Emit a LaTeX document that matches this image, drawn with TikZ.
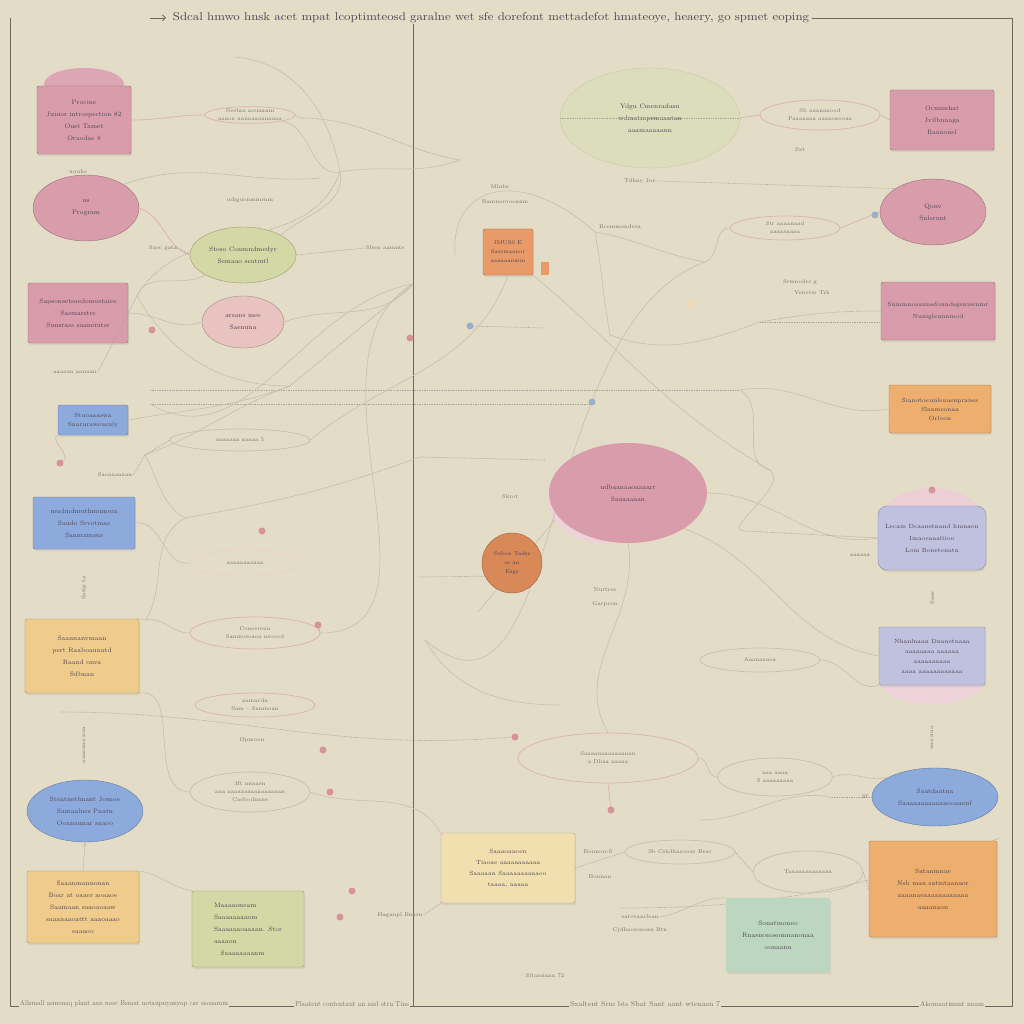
\documentclass[tikz,border=0pt]{standalone}
\usepackage{tikz}
\usetikzlibrary{shapes.geometric,shadows,arrows.meta}

\definecolor{bgc}{HTML}{E3DCC7}
\definecolor{framec}{HTML}{6E665C}
\definecolor{cpink}{HTML}{D99CAB}
\definecolor{cpinklt}{HTML}{E8C3C0}
\definecolor{cgreen}{HTML}{D4D8A5}
\definecolor{cgreenlt}{HTML}{DCDDBA}
\definecolor{cblue}{HTML}{8DAADC}
\definecolor{cyellow}{HTML}{EFCB8C}
\definecolor{ccream}{HTML}{F1DFB0}
\definecolor{corange}{HTML}{E89B68}
\definecolor{corangedk}{HTML}{D98858}
\definecolor{corangert}{HTML}{EDAE6E}
\definecolor{cteal}{HTML}{BCD7C0}
\definecolor{clav}{HTML}{C0C1DE}
\definecolor{wirec}{HTML}{C9BFAC}
\definecolor{wirep}{HTML}{DDB2AD}
\definecolor{inkc}{HTML}{4F4450}
\definecolor{labc}{HTML}{7A7268}
\definecolor{spotp}{HTML}{D6949A}
\definecolor{spotb}{HTML}{9AB0C8}

\tikzset{
	card/.style={rectangle, draw=#1!72!black, fill=#1, rounded corners=1.5pt, align=center,
		text=inkc, font=\fontsize{6.5}{12}\selectfont, inner sep=2pt,
		drop shadow={opacity=.15, shadow xshift=1pt, shadow yshift=-2pt}},
	oval/.style={ellipse, draw=#1!72!black, fill=#1, align=center, text=inkc,
		font=\fontsize{6.5}{12}\selectfont, inner sep=0pt},
	lens/.style={ellipse, draw=wirep, line width=0.7pt, align=center, text=labc,
		font=\fontsize{5.5}{8}\selectfont, inner sep=0pt},
	glens/.style={lens, draw=wirec},
	wire/.style={draw=wirec, line width=0.6pt},
	pwire/.style={draw=wirep, line width=0.7pt},
	tline/.style={draw=labc!65, densely dotted, line width=0.7pt},
	lbl/.style={text=labc, font=\fontsize{5.5}{7}\selectfont, inner sep=1pt},
	spot/.style={circle, fill=#1, inner sep=0pt, minimum size=7pt},
	frame/.style={draw=framec, line width=0.8pt},
	foot/.style={fill=bgc, text=labc, inner sep=1pt}
}

\begin{document}
\begin{tikzpicture}[x=1pt,y=-1pt]
	\useasboundingbox (0,0) rectangle (1024,1024);
	\fill[bgc] (0,0) rectangle (1024,1024);

	\coordinate (hA) at (300,118);
	\coordinate (hB) at (340,172);
	\coordinate (hC) at (595,232);
	\coordinate (hD) at (137,296);
	\coordinate (hE) at (290,386);
	\coordinate (hF) at (145,455);
	\coordinate (hF2) at (185,518);
	\coordinate (hG) at (146,620);
	\coordinate (topA) at (235,57);
	\coordinate (midA) at (460,160);
	\coordinate (midC) at (413,284);
	\coordinate (cUs) at (320,178);
	\coordinate (hC2) at (610,335);
	\coordinate (hR1) at (705,262);
	\coordinate (hR3) at (760,322);
	\coordinate (hR4) at (740,390);
	\coordinate (hR5) at (745,531);
	\coordinate (hR6) at (830,797);
	\coordinate (hMid) at (770,470);
	\coordinate (lft1) at (150,390);
	\coordinate (lft2) at (150,404);
	\coordinate (ptr) at (420,457);
	\coordinate (cc1) at (478,612);
	\coordinate (ccl) at (420,577);
	\coordinate (lowL) at (60,712);
	\coordinate (lowM) at (620,908);
	\coordinate (lowR) at (1000,838);
	\coordinate (hK) at (425,640);

	% frame and title
	\draw[frame] (10,18) -- (10,1006) -- (1012,1006) -- (1012,18);
	\draw[frame] (413,14) -- (413,1006);
	\draw[frame,-{Straight Barb[length=3pt]}] (150,18) -- (166,18);
	\draw[frame] (812,18) -- (1012,18);
	\node[fill=bgc, text=inkc, inner sep=1pt] (title) at (491,18) {\resizebox{636pt}{8pt}{Sdcal hmwo hnsk acet mpat lcoptimteosd garalne wet sfe dorefont mettadefot hmateoye, heaery, go spmet eoping}};
	\node[foot] (foot1) at (124,1004) {\resizebox{208pt}{5pt}{Allsmall asmenaq plant aan nosc Bsmat notaupnyanyap car saosamm}};
	\node[foot] (foot2) at (352,1004) {\resizebox{114pt}{5pt}{Plaatent contentaut an and stru Tins}};
	\node[foot] (foot3) at (645,1004) {\resizebox{150pt}{5pt}{Sxaltent Srm bts Sbat Sant aant wtenasn 7}};
	\node[foot] (foot4) at (952,1004) {\resizebox{64pt}{5pt}{Akomaatimmt naam}};

	% halos
	\fill[cpink!90] (84,84) ellipse [x radius=40pt, y radius=16pt];
	\fill[cpink!45] (600,497) ellipse [x radius=52pt, y radius=46pt];
	\fill[cpink!50] (932,522) ellipse [x radius=52pt, y radius=34pt];
	\fill[cpink!45] (932,680) ellipse [x radius=52pt, y radius=24pt];
	\fill[corange] (541,262) rectangle (549,275);

	% connectors, left side
	\node[lens] (nest) at (250,115) {Nestaa aouaanm\\ aaaoa uanaaaaanaaaa};
	\draw[tline] (nest.east) -- (hA);
	\draw[tline] (hA) to[out=0,in=170] (midA);
	\draw[wire] (topA) to[out=-5,in=100] (hB);
	\draw[wire] (hB) to[out=10,in=200] (midA);
	\draw[wire] (hB) to[out=190,in=-10] (nest.south east);
	\draw[tline] (hD) to[out=60,in=250] (hB);
	\draw[wire] (hD) to[out=-60,in=180] (hE);
	\draw[wire] (hE) to[out=40,in=220] (midC);
	\draw[tline] (lft1) -- (hR4);
	\draw[tline] (lft2) -- (592,404);
	\draw[wire] (hF) to[out=-60,in=150] (hF2);
	\draw[wire] (hF2) to[out=10,in=200] (ptr);
	\draw[wire] (hF) to[out=20,in=200] (hE);
	\draw[wire] (hG) to[out=60,in=210] (hF2);
	\draw[wire] (hK) to[out=-40,in=200] (hR1);
	\draw[wire] (lft2) to[out=-30,in=190] (midC);

	% connectors, middle
	\draw[wire] (hC) .. controls (520,165) and (450,185) .. (455,255);
	\draw[wire] (hC) to[out=-80,in=100] (hC2);
	\draw[wire] (hC) to[out=-10,in=170] (hR1);
	\draw[wire] (hC2) to[out=-20,in=200] (hR3);
	\draw[tline] (hR3) -- (880,322);
	\draw[wire] (hR4) to[out=-30,in=170] (hMid);
	\draw[tline] (ptr) -- (545,460);
	\draw[wire] (cc1) -- (555,520);
	\draw[tline] (ccl) -- (500,576);
	\draw[wire] (hMid) to[out=-40,in=180] (hR5);
	\draw[wire] (hK) to[out=-60,in=180] (560,705);
	\draw[tline] (lowL) to[out=0,in=185] (512,737);
	\draw[tline] (lowM) to[out=0,in=200] (lowR);
	\draw[wire] (hR6) to[out=170,in=0] (700,820);

	% nodes, left column
	\node[card=cpink, minimum width=94pt, minimum height=68pt] (procine) at (84,120) {Procine\\ Junior introspection 82\\ Oust Tamet\\ Oraodae 8};
	\node[oval=cpink, minimum width=106pt, minimum height=66pt] (ovalus) at (86,208) {us\\ Program};
	\node[oval=cgreen, minimum width=106pt, minimum height=56pt] (shoe) at (243,255) {Stoso Conmndmedyr\\ Semaao seatmtl};
	\node[card=cpink, minimum width=100pt, minimum height=60pt] (sapbox) at (78,313) {Sapsonsetsaedomestaiee\\ Sasmarstre\\ Sunsrass saaneratsr};
	\node[oval=cpinklt, minimum width=82pt, minimum height=52pt] (pinkegg) at (243,322) {arsans mee\\ Saenuna};
	\node[card=cblue, minimum width=70pt, minimum height=30pt, font=\fontsize{6}{9}\selectfont] (bluesm) at (93,420) {Stuoaaaswa\\ Snaruraweusuly};
	\node[card=cblue, minimum width=102pt, minimum height=52pt] (bluebox) at (84,523) {mudmdmuthmumera\\ Saudo Srvotmas\\ Sanmxmsus};
	\node[card=cyellow, minimum width=114pt, minimum height=74pt] (yelA) at (82,656) {Saannanvmaan\\ pert Raaboaunatd\\ Raand onva\\ Sdbnan};
	\node[oval=cblue, minimum width=116pt, minimum height=62pt] (blueov) at (85,811) {Stoatnethnant Josnoe\\ Samaalnes Pnatn\\ Ooanaunar saaoo};
	\node[card=cyellow, minimum width=112pt, minimum height=72pt] (yelB) at (83,907) {Saaanmannonan\\ Boar at oaaer aoaaoe\\ Saamaan saaoaoaaw\\ saaanaaoattt aaaoaaao\\ saaaoo};
	\node[card=cgreen, minimum width=112pt, minimum height=76pt, align=left] (greenB) at (248,929) {Maaaaoneam\\ Saaaaaaaaom\\ Saaaaaaoaaaan. Stor\\ aaaaon\\ \quad Saaaaaaaanm};

	% nodes, middle
	\node[oval=cgreenlt, draw=cgreenlt!92!black, minimum width=180pt, minimum height=100pt] (bigegg) at (650,118) {Ydgu Cmenradasn\\ wdmatmprmuantan\\ aaamaaaaann};
	\node[card=corange, minimum width=50pt, minimum height=46pt, font=\fontsize{5.5}{9}\selectfont] (tagbox) at (508,252) {IMUSS E\\ Sassmaanor\\ aaaaaanmm};
	\node[oval=cpink, draw=none, minimum width=158pt, minimum height=100pt] (bigpink) at (628,493) {ndbaanaaoaaaarr\\ Saaaaaaan};
	\node[oval=corangedk, minimum width=60pt, minimum height=60pt, font=\fontsize{5.5}{9}\selectfont] (orcirc) at (512,563) {Suboa Tasks\\ ss an\\ Esgs};
	\node[card=ccream, minimum width=134pt, minimum height=70pt, font=\fontsize{6}{11}\selectfont] (cream) at (508,868) {Saaaoaaoen\\ Tiaoae aaaaaaaaaaa\\ Saaaaan Saaaaaaaaaaoo\\ taaaa, aaaaa};
	\node[card=cteal, draw=cteal, minimum width=104pt, minimum height=74pt] (teal) at (778,935) {Sonatinoneo\\ Rnasnonosomnanonaa\\ oonaanu};

	% nodes, right column
	\node[card=cpink, minimum width=104pt, minimum height=60pt] (rbox1) at (942,120) {Ocmnnhat\\ Jvilbnnaga\\ Ilaauonel};
	\node[oval=cpink, minimum width=106pt, minimum height=66pt] (rov) at (933,212) {Qonv\\ Snlerunt};
	\node[card=cpink, minimum width=114pt, minimum height=58pt, font=\fontsize{6}{12}\selectfont] (rbox2) at (938,311) {Snmmnosaunsdoundsgenisenmr\\ Nunigleunnmod};
	\node[card=corangert, minimum width=102pt, minimum height=48pt, font=\fontsize{6}{9}\selectfont] (rorange) at (940,409) {Sianotoeunlenasnpranes\\ Slanmsonaa\\ Orloon};
	\node[card=clav, rounded corners=9pt, minimum width=108pt, minimum height=64pt, font=\fontsize{6}{12}\selectfont] (rlav) at (932,538) {Lecam Dcaanetnand hmnaon\\ Imaoeaaaltioo\\ Lom Bonetenatn};
	\node[card=clav, minimum width=106pt, minimum height=58pt, font=\fontsize{6}{10}\selectfont] (rlav2) at (932,656) {Nhanlnaan Dnanetnaaa\\ aaaaaaaa aaaaaa\\ aaaaaaaaaa\\ aaaa aaaaaaaaaaaa};
	\node[oval=cblue, minimum width=126pt, minimum height=58pt] (rblue) at (935,797) {Saatdaatna\\ Saaaaaaaaaaanooaaenf};
	\node[card=corangert, minimum width=128pt, minimum height=96pt] (rorg2) at (933,889) {Satanmnae\\ Nsh man satmtaanaor\\ aaaanaeaaaaaaaanaaa\\ aaaanaon};

	% lenses
	\node[lens, minimum width=120pt, minimum height=30pt] (lensR1) at (820,115) {Sb aaanaaood\\ Paaaaaaa aaaaoaooaa};
	\node[lens, minimum width=110pt, minimum height=24pt] (lensR2) at (785,228) {Str aaaanaad\\ aaaaaaaaa};
	\node[lens, minimum width=130pt, minimum height=32pt] (lensL3) at (255,633) {Coneereun\\ Sanmosoaoa nsoocd};
	\node[lens, minimum width=120pt, minimum height=24pt] (lensL4) at (255,705) {aamnrdn\\ Sam -- Sanmoan};
	\node[glens, minimum width=120pt, minimum height=40pt] (lensL5) at (250,792) {3ft nnaaen\\ aaa aaaaaaaaaaaaaaaan\\ Casbodnans};
	\node[lens, draw=wirep!60, minimum width=110pt, minimum height=26pt] (lensL6) at (245,563) {aaaaaaaaaaa};
	\node[glens, minimum width=140pt, minimum height=22pt] (lensL7) at (240,440) {aaaaaaa aaaaa 5};
	\node[lens, minimum width=180pt, minimum height=50pt] (lensM1) at (608,758) {Saaaanaaaaaaanan\\ a Dhaa aaaaa};
	\node[glens, minimum width=120pt, minimum height=24pt] (lensM2) at (760,660) {Aaanaaaoa};
	\node[glens, minimum width=115pt, minimum height=38pt] (lensM3) at (775,777) {aaa aaaa\\ S aaaaaaaaa};
	\node[glens, minimum width=110pt, minimum height=24pt] (lensM4) at (680,852) {Sb Cshdkasoour Bear};
	\node[glens, minimum width=110pt, minimum height=42pt] (lensM5) at (808,872) {Taaaaaaaaaaaaa};

	% node to node connectors
	\draw[pwire] (procine.east) to[out=0,in=180] (nest.west);
	\draw[tline] (ovalus.north east) to[out=20,in=185] (cUs);
	\draw[pwire] (ovalus.east) to[out=-20,in=160] (shoe.west);
	\draw[wire] (hB) to[out=-80,in=40] (shoe.north east);
	\draw[wire] (hD) to[out=70,in=210] (shoe.south west);
	\draw[wire] (sapbox.east) to[out=0,in=200] (pinkegg.west);
	\draw[wire] (pinkegg.east) to[out=20,in=230] (midC);
	\draw[wire] (bluesm.east) to[out=10,in=200] (hE);
	\draw[tline] (hF) -- (lensL7.west);
	\draw[wire] (bluebox.east) to[out=10,in=190] (lensL6.west);
	\draw[wire] (yelA.north east) -- (hG);
	\draw[wire] (hG) to[out=10,in=180] (lensL3.west);
	\draw[wire] (lensL3.east) to[out=0,in=210] (midC);
	\draw[wire] (yelA.south east) to[out=10,in=180] (lensL5.west);
	\draw[wire,-{Stealth[length=4pt]}] (yelB.north) -- (blueov.south);
	\draw[wire] (yelB.north east) to[out=-10,in=170] (greenB.north west);
	\draw[wire] (tagbox.south east) to[out=-40,in=150] (hMid);
	\draw[wire] (tagbox.south) to[out=-110,in=40] (lensL7.east);
	\draw[tline] (bigegg.west) -- (bigegg.east);
	\draw[pwire] (bigegg.east) -- (lensR1.west);
	\draw[pwire] (lensR1.east) -- (rbox1.west);
	\draw[wire] (hR1) to[out=20,in=180] (lensR2.west);
	\draw[pwire] (lensR2.east) -- (rov.west);
	\draw[tline] (hR3) to[out=10,in=180] (rbox2.west);
	\draw[wire] (hR4) to[out=10,in=190] (rorange.west);
	\draw[wire] (bigpink.east) to[out=0,in=190] (rlav.west);
	\draw[tline] (hR5) -- (rlav.west);
	\draw[wire] (bigpink.south east) to[out=-20,in=170] (rlav2.west);
	\draw[wire] (bigpink.south) to[out=-80,in=120] (lensM1.north);
	\draw[wire] (lensM1.east) to[out=0,in=180] (lensM3.west);
	\draw[wire] (lensM2.east) to[out=0,in=200] (rlav2.south west);
	\draw[tline] (rblue.west) -- (hR6);
	\draw[tline] (cream.east) -- (lensM4.west);
	\draw[tline] (lensM4.east) -- (lensM5.west);
	\draw[tline] (lensM5.east) -- (rorg2.west);
	\draw[wire] (cream.north west) to[out=120,in=-20] (lensL5.east);
	\draw[wire] (lensM3.east) to[out=20,in=200] (rblue.north west);

	% spots
	\node[spot=spotp] (s1) at (152,330) {};
	\node[spot=spotp] (s2) at (410,338) {};
	\node[spot=spotp] (s3) at (60,463) {};
	\node[spot=spotp] (s4) at (262,531) {};
	\node[spot=spotp] (s5) at (318,625) {};
	\node[spot=spotp] (s6) at (323,750) {};
	\node[spot=spotp] (s7) at (330,792) {};
	\node[spot=spotp] (s8) at (352,891) {};
	\node[spot=spotp] (s9) at (340,917) {};
	\node[spot=spotp] (s10) at (611,810) {};
	\node[spot=spotp] (s11) at (932,490) {};
	\node[spot=spotp] (s12) at (515,737) {};
	\node[spot=spotb] (s13) at (470,326) {};
	\node[spot=spotb] (s14) at (592,402) {};
	\node[spot=spotb] (s15) at (875,215) {};
	\node[spot=cyellow!70] (s16) at (692,303) {};
	\draw[pwire] (s3) to[out=30,in=200] (bluesm.south west);
	\draw[tline] (s13) -- (545,328);
	\draw[pwire] (lensL3.east) -- (s5);
	\draw[pwire] (lensM1.south) -- (s10);

	% free labels
	\node[lbl] (l1) at (500,187) {Mlnbe};
	\node[lbl] (l2) at (505,202) {Ramnoroooanm};
	\node[lbl] (l3) at (640,181) {Tdhny Joe};
	\node[lbl] (l4) at (620,227) {Bcemmondeea};
	\node[lbl] (l5) at (510,497) {Skrot};
	\node[lbl] (l6) at (605,590) {Nurtree};
	\node[lbl] (l7) at (605,604) {Garpeon};
	\node[lbl] (l8) at (252,740) {Opmoon};
	\node[lbl] (l9) at (163,248) {Sxec gata};
	\node[lbl] (l10) at (385,248) {Sfsen aamnts};
	\node[lbl] (l11) at (800,150) {Sxt};
	\node[lbl] (l12) at (800,282) {Srmnodrs g};
	\node[lbl] (l13) at (812,293) {Venvrsr Trk};
	\node[lbl] (l14) at (545,976) {Sltannaan 72};
	\node[lbl] (l15) at (640,917) {sarovanrlean};
	\node[lbl] (l16) at (640,930) {Cjdhaosoaoan Rtn};
	\node[lbl] (l17) at (598,852) {Bonnon-S};
	\node[lbl] (l18) at (600,877) {Bonnan};
	\node[lbl] (l19) at (400,915) {Haganpl Bnarn};
	\node[lbl] (l20) at (250,200) {udiguonmmrnm};
	\node[lbl] (l21) at (115,475) {Saoaaaaaan};
	\node[lbl] (l22) at (78,172) {uuuhs};
	\node[lbl] (l23) at (75,372) {aaaaaa aanaan};
	\node[lbl, rotate=90] (l24) at (84,588) {Satip ta};
	\node[lbl, rotate=90] (l25) at (84,745) {aaaaaaa naa};
	\node[lbl, rotate=90] (l26) at (932,598) {Saas};
	\node[lbl, rotate=90] (l27) at (932,738) {aaa naa};
	\node[lbl] (l28) at (865,797) {Sf};
	\node[lbl] (l29) at (860,555) {aaaaaa};
	\draw[tline] (l3.east) -- (rov.north west);
	\draw[tline] (l9.east) -- (shoe.west);
	\draw[tline] (l23.east) -- (hD);
	\draw[tline] (l21.east) -- (hF);
	\draw[tline] (l10.west) -- (shoe.east);
	\draw[tline] (l19.east) -- (cream.south west);
	\draw[tline] (l15.east) to[out=10,in=180] (teal.north west);
\end{tikzpicture}
\end{document}
